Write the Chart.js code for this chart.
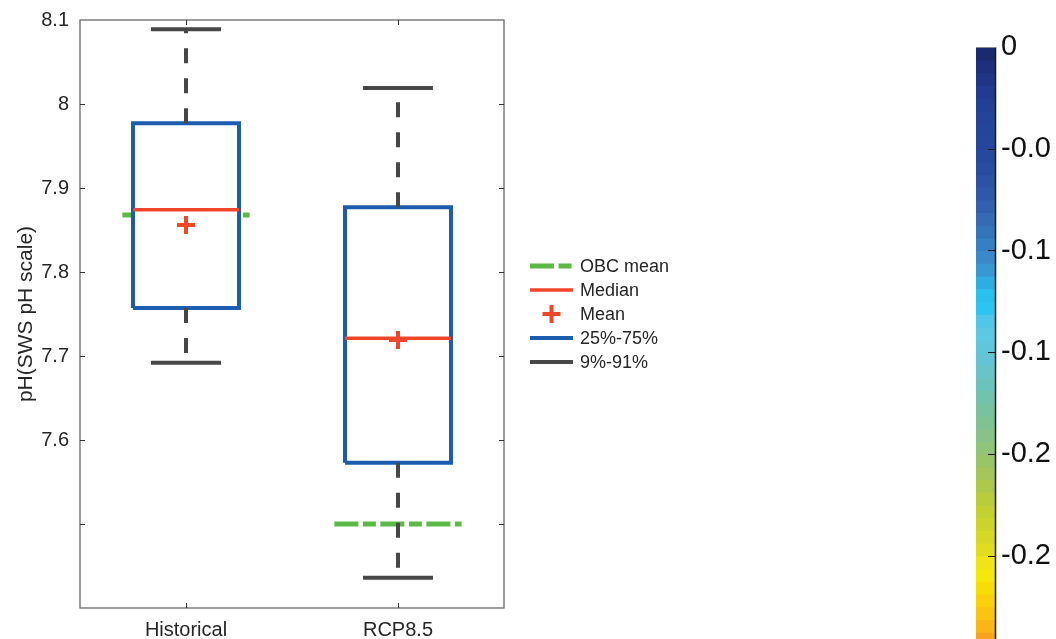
<!DOCTYPE html>
<html>
<head>
<meta charset="utf-8">
<script src="https://cdn.jsdelivr.net/npm/chart.js@4.4.1/dist/chart.umd.min.js"></script>
<style>
  html, body { margin: 0; padding: 0; background: #fff; overflow: hidden; width: 1056px; height: 639px; }
  #main { position: absolute; left: 0; top: 0; }
  #cbar { position: absolute; left: 976px; top: 17px; }
</style>
</head>
<body>
<canvas id="main" width="1056" height="639"></canvas>
<canvas id="cbar" width="80" height="870"></canvas>
<script>
// ---- pH statistics per period ----
const categories = ['Historical', 'RCP8.5'];
const p91 = [8.089, 8.019];      // upper whisker (91st percentile)
const q75 = [7.977, 7.877];      // box top (75th percentile)
const medians = [7.874, 7.721];
const means = [7.856, 7.719];
const q25 = [7.757, 7.573];      // box bottom (25th percentile)
const p09 = [7.692, 7.436];      // lower whisker (9th percentile)
const obcMeans = [7.868, 7.500];

const yTickValues = [7.4, 7.5, 7.6, 7.7, 7.8, 7.9, 8.0, 8.1];
const yTickLabels = ['', '', '7.6', '7.7', '7.8', '7.9', '8', '8.1'];
const legendLabels = ['OBC mean', 'Median', 'Mean', '25%-75%', '9%-91%'];

// ---- colour bar ----
const cbarLimits = [-0.4, 0];
const cbarTickValues = [0, -0.05, -0.1, -0.15, -0.2, -0.25, -0.3, -0.35, -0.4];
const cbarTickLabels = ['0', '-0.0', '-0.1', '-0.1', '-0.2', '-0.2', '-0.3', '-0.3', '-0.4'];
const cbarColors = [
  '#1b2a6c','#1e2f7c','#213587','#223b90','#234095','#234498','#23469a','#24479b',
  '#25499d','#284c9f','#2c52a3','#3058a8','#3460ad','#366ab2','#3474b8','#3480c2',
  '#3a88c8','#3898d2','#2eaee0','#2ac0ee','#2cc4f2','#50c6e8','#5cc8e2','#60c6dc',
  '#64c4d4','#68c4c8','#6cc2bc','#72c2ae','#78c2a0','#80c294','#88c288','#90c47a',
  '#9ac46a','#a4c65a','#aec84a','#b8cc3c','#c2d032','#ccd42c','#d6d828','#e2dc20',
  '#eee416','#f4e80c','#f8dc08','#fad00c','#fac410','#f9b616','#f7a41e','#f5942a',
  '#f38a2e','#f18030','#ef7631','#ec6c32','#e96233','#e65834','#e34e35','#df4536',
  '#db3c37','#d63438','#d02d39','#c9273a','#c2213b','#ba1c3b','#b2183b','#aa143b'
];

// ---- styling ----
const FONT = "'Liberation Sans', Arial, Helvetica, sans-serif";
const TEXT = '#262626';
const BLUE = '#1c5db0', RED = '#f0462a', GREEN = '#5cb946', GRAY = '#474747';
const BOX_HALF = 0.25, CAP_HALF = 0.165, OBC_HALF = 0.3;

Chart.defaults.font.family = FONT;
Chart.defaults.color = TEXT;

// Turn a list of [x0, y0, x1, y1] segments into line data broken by gaps
function segments(list) {
  const pts = [];
  list.forEach((s, i) => {
    if (i > 0) pts.push({ x: s[0], y: null });
    pts.push({ x: s[0], y: s[1] }, { x: s[2], y: s[3] });
  });
  return pts;
}
const xs = categories.map((_, i) => i + 1);

const boxDatasets = xs.map((x, i) => ({
  label: categories[i] + ' box',
  data: [
    { x: x - BOX_HALF, y: q25[i] }, { x: x + BOX_HALF, y: q25[i] },
    { x: x + BOX_HALF, y: q75[i] }, { x: x - BOX_HALF, y: q75[i] },
    { x: x - BOX_HALF, y: q25[i] }
  ],
  borderColor: BLUE, borderWidth: 4, backgroundColor: '#ffffff',
  fill: 'shape', pointRadius: 0, tension: 0, order: 4,
  legendKey: i === 0 ? '25%-75%' : null
}));

const datasets = [
  {
    label: 'OBC mean',
    data: segments(xs.map((x, i) => [x - OBC_HALF, obcMeans[i], x + OBC_HALF, obcMeans[i]])),
    borderColor: GREEN, borderWidth: 5, borderDash: [24, 4.5, 13, 4.5],
    pointRadius: 0, spanGaps: false, order: 6, legendKey: 'OBC mean'
  },
  ...boxDatasets,
  {
    label: 'Whiskers',
    data: segments(xs.flatMap((x, i) => [[x, q75[i], x, p91[i]], [x, q25[i], x, p09[i]]])),
    borderColor: GRAY, borderWidth: 4, borderDash: [15, 15],
    pointRadius: 0, spanGaps: false, order: 3
  },
  {
    label: 'Caps',
    data: segments(xs.flatMap((x, i) => [[x - CAP_HALF, p91[i], x + CAP_HALF, p91[i]], [x - CAP_HALF, p09[i], x + CAP_HALF, p09[i]]])),
    borderColor: GRAY, borderWidth: 4,
    pointRadius: 0, spanGaps: false, order: 2, legendKey: '9%-91%'
  },
  {
    label: 'Median',
    data: segments(xs.map((x, i) => [x - BOX_HALF, medians[i], x + BOX_HALF, medians[i]])),
    borderColor: RED, borderWidth: 3.5,
    pointRadius: 0, spanGaps: false, order: 1, legendKey: 'Median'
  },
  {
    label: 'Mean',
    data: xs.map((x, i) => ({ x: x, y: means[i] })),
    showLine: false, pointStyle: 'cross', pointRadius: 9, pointBorderWidth: 4,
    pointBorderColor: RED, borderColor: RED, order: 0, legendKey: 'Mean'
  }
];

// Axes frame with inward tick marks on all four sides
const framePlugin = {
  id: 'frame',
  afterDraw(chart) {
    const { ctx, chartArea: a, scales } = chart;
    ctx.save();
    ctx.strokeStyle = '#5e5e5e';
    ctx.lineWidth = 1.2;
    ctx.strokeRect(a.left, a.top, a.right - a.left, a.bottom - a.top);
    ctx.strokeStyle = '#333';
    ctx.lineWidth = 1;
    ctx.beginPath();
    scales.y.ticks.forEach(t => {
      const y = Math.round(scales.y.getPixelForValue(t.value)) + 0.5;
      if (y <= a.top + 1 || y >= a.bottom - 1) return;
      ctx.moveTo(a.left, y); ctx.lineTo(a.left + 5, y);
      ctx.moveTo(a.right, y); ctx.lineTo(a.right - 5, y);
    });
    scales.x.ticks.forEach(t => {
      const x = Math.round(scales.x.getPixelForValue(t.value)) + 0.5;
      ctx.moveTo(x, a.bottom); ctx.lineTo(x, a.bottom - 5);
      ctx.moveTo(x, a.top); ctx.lineTo(x, a.top + 5);
    });
    ctx.stroke();
    ctx.restore();
  }
};

// Legend built from the dataset styles
const legendPlugin = {
  id: 'sideLegend',
  afterDraw(chart) {
    const { ctx, chartArea: a } = chart;
    const ds = chart.data.datasets;
    const x0 = a.right + 26, x1 = a.right + 69, tx = a.right + 76;
    const step = 24;
    const cy = (a.top + a.bottom) / 2;
    ctx.save();
    legendLabels.forEach((lab, k) => {
      const d = ds.find(s => s.legendKey === lab);
      const y = cy + (k - (legendLabels.length - 1) / 2) * step;
      ctx.strokeStyle = d.borderColor;
      ctx.lineCap = 'butt';
      if (d.showLine === false) {
        const r = d.pointRadius, xc = (x0 + x1) / 2;
        ctx.lineWidth = d.pointBorderWidth;
        ctx.setLineDash([]);
        ctx.beginPath();
        ctx.moveTo(xc - r, y); ctx.lineTo(xc + r, y);
        ctx.moveTo(xc, y - r); ctx.lineTo(xc, y + r);
        ctx.stroke();
      } else {
        ctx.lineWidth = d.borderWidth;
        ctx.setLineDash(d.borderDash || []);
        ctx.beginPath();
        ctx.moveTo(x0, y); ctx.lineTo(x1, y);
        ctx.stroke();
      }
      ctx.setLineDash([]);
      ctx.fillStyle = TEXT;
      ctx.font = '18px ' + FONT;
      ctx.textBaseline = 'middle';
      ctx.textAlign = 'left';
      ctx.fillText(lab, tx, y + 1);
    });
    ctx.restore();
  }
};

new Chart(document.getElementById('main'), {
  type: 'line',
  data: { datasets },
  options: {
    responsive: false,
    animation: false,
    layout: { padding: { left: 0, top: 20, right: 552, bottom: 0 } },
    plugins: { legend: { display: false }, tooltip: { enabled: false } },
    scales: {
      x: {
        type: 'linear', min: 0.5, max: 2.5,
        afterBuildTicks: s => { s.ticks = xs.map(v => ({ value: v })); },
        afterFit: s => { s.height = 31; s.paddingLeft = 0; s.paddingRight = 0; },
        ticks: { callback: (v, i) => categories[i], padding: 10, font: { size: 20 }, color: TEXT, maxRotation: 0 },
        grid: { display: false, drawTicks: false },
        border: { display: false }
      },
      y: {
        type: 'linear', min: 7.4, max: 8.1,
        afterBuildTicks: s => { s.ticks = yTickValues.map(v => ({ value: v })); },
        afterFit: s => { s.width = 80; s.paddingTop = 0; s.paddingBottom = 0; },
        ticks: { callback: (v, i) => yTickLabels[i], padding: 11, font: { size: 20 }, color: TEXT },
        grid: { display: false, drawTicks: false },
        border: { display: false },
        title: { display: true, text: 'pH(SWS pH scale)', font: { size: 21 }, color: TEXT, padding: { top: 14, bottom: 0 } }
      }
    }
  },
  plugins: [framePlugin, legendPlugin]
});

// ---- colour bar: stacked bands from 0 downward ----
const bandSize = (cbarLimits[1] - cbarLimits[0]) / cbarColors.length;
const cbarFrame = {
  id: 'cbarFrame',
  afterDraw(chart) {
    const { ctx, chartArea: a, scales } = chart;
    ctx.save();
    ctx.strokeStyle = '#1a1a1a';
    ctx.lineWidth = 1.2;
    ctx.beginPath();
    scales.y.ticks.forEach(t => {
      const y = Math.round(scales.y.getPixelForValue(t.value)) + 0.5;
      if (y <= a.top + 1) return;
      ctx.moveTo(a.right, y); ctx.lineTo(a.right - 8, y);
    });
    ctx.stroke();
    ctx.lineWidth = 1.5;
    ctx.beginPath();
    ctx.moveTo(a.right - 0.5, a.top); ctx.lineTo(a.right - 0.5, a.bottom);
    ctx.stroke();
    ctx.strokeStyle = '#8a8a8a';
    ctx.lineWidth = 1;
    ctx.beginPath();
    ctx.moveTo(a.left, a.top + 0.5); ctx.lineTo(a.right, a.top + 0.5);
    ctx.stroke();
    ctx.restore();
  }
};

new Chart(document.getElementById('cbar'), {
  type: 'bar',
  data: {
    labels: [''],
    datasets: cbarColors.map(c => ({
      data: [-bandSize], backgroundColor: c, borderWidth: 0,
      barPercentage: 1, categoryPercentage: 1, inflateAmount: 0.6
    }))
  },
  options: {
    responsive: false,
    animation: false,
    layout: { padding: { left: 0, top: 30, right: 0, bottom: 26 } },
    plugins: { legend: { display: false }, tooltip: { enabled: false } },
    scales: {
      x: { display: false, stacked: true },
      y: {
        position: 'right', stacked: true,
        min: cbarLimits[0], max: cbarLimits[1],
        afterBuildTicks: s => { s.ticks = cbarTickValues.map(v => ({ value: v })); },
        afterFit: s => { s.width = 60; },
        ticks: { callback: (v, i) => cbarTickLabels[i], padding: 5, font: { size: 29 }, color: '#111' },
        grid: { display: false, drawTicks: false },
        border: { display: false }
      }
    }
  },
  plugins: [cbarFrame]
});
</script>
</body>
</html>
